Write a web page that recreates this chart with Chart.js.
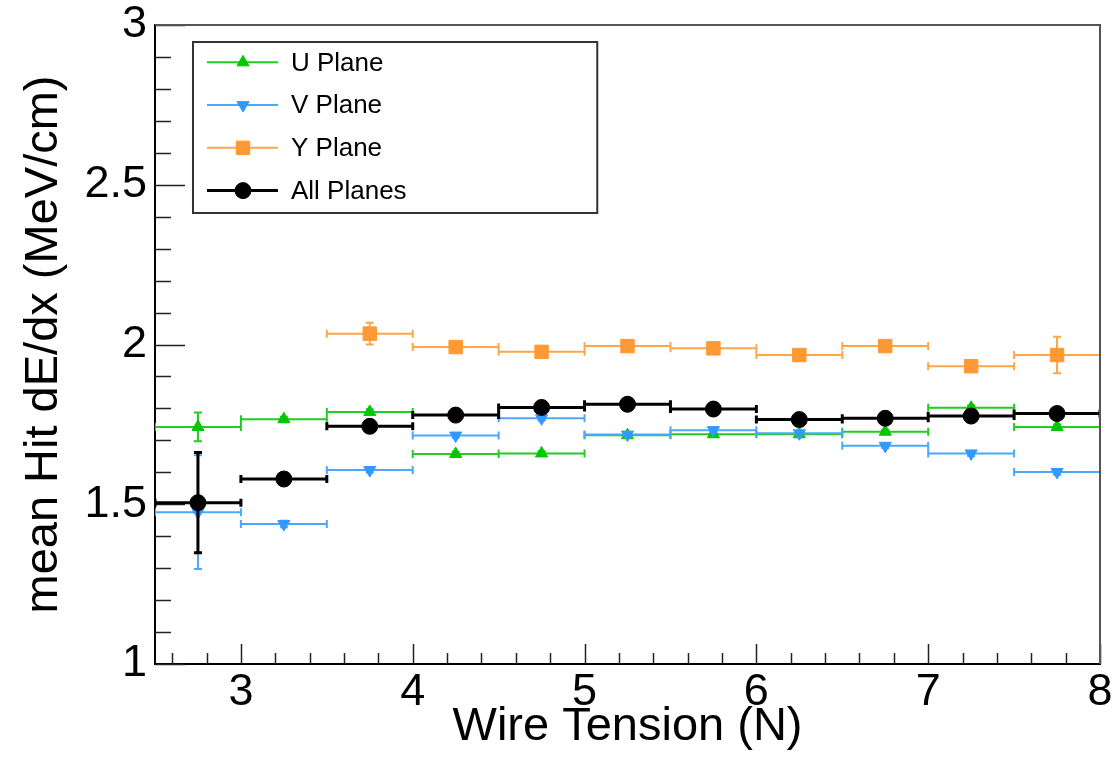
<!DOCTYPE html>
<html>
<head>
<meta charset="utf-8">
<script src="https://cdn.jsdelivr.net/npm/chart.js@4.4.1/dist/chart.umd.min.js"></script>
<style>
html,body{margin:0;padding:0;background:#fff;}
#wrap{width:1115px;height:758px;position:relative;}
</style>
</head>
<body>
<div id="wrap"><canvas id="c" width="1115" height="758"></canvas></div>
<script>
// ---- data ----
const binCenters = [2.75, 3.25, 3.75, 4.25, 4.75, 5.25, 5.75, 6.25, 6.75, 7.25, 7.75];
const binHalfWidth = 0.25;
const uValues   = [1.742, 1.766, 1.789, 1.657, 1.659, 1.716, 1.719, 1.719, 1.727, 1.802, 1.742];
const uErrors   = [0.045, 0.008, 0.008, 0.007, 0.007, 0.006, 0.006, 0.006, 0.006, 0.007, 0.008];
const vValues   = [1.475, 1.438, 1.607, 1.715, 1.769, 1.718, 1.732, 1.722, 1.683, 1.659, 1.601];
const vErrors   = [0.178, 0.010, 0.008, 0.007, 0.007, 0.006, 0.006, 0.006, 0.007, 0.008, 0.009];
const yValues   = [null, null, 2.034, 1.992, 1.977, 1.995, 1.988, 1.967, 1.995, 1.932, 1.967];
const yErrors   = [null, null, 0.034, 0.010, 0.008, 0.008, 0.008, 0.009, 0.010, 0.012, 0.057];
const allValues = [1.505, 1.579, 1.744, 1.779, 1.803, 1.813, 1.798, 1.765, 1.769, 1.776, 1.784];
const allErrors = [0.157, 0.012, 0.008, 0.006, 0.006, 0.005, 0.005, 0.005, 0.006, 0.006, 0.008];
const seriesLabels = ['U Plane', 'V Plane', 'Y Plane', 'All Planes'];
const xTickValues = [3, 4, 5, 6, 7, 8];
const yTickValues = [1, 1.5, 2, 2.5, 3];
const xAxisTitle = 'Wire Tension (N)';
const yAxisTitle = 'mean Hit dE/dx (MeV/cm)';

// ---- styles ----
const FONT = "'Liberation Sans', Arial, Helvetica, sans-serif";
const styles = [
  {color: '#00c800', line: '#22cc22', pointStyle: 'triangle', rotation: 0,   radius: 7,   lw: 2, cap: 4},
  {color: '#3399ff', line: '#4da6ff', pointStyle: 'triangle', rotation: 180, radius: 7,   lw: 2, cap: 4},
  {color: '#ff9933', line: '#ffa64d', pointStyle: 'rect',     rotation: 0,   radius: 9.5, lw: 2, cap: 4},
  {color: '#000000', line: '#000000', pointStyle: 'circle',   rotation: 0,   radius: 8,   lw: 3, cap: 4}
];

function buildPoints(vals, errs) {
  const pts = [];
  binCenters.forEach((x, i) => {
    if (vals[i] === null) return;
    pts.push({x: x, y: vals[i], xerr: binHalfWidth, yerr: errs[i]});
  });
  return pts;
}
const seriesVals = [uValues, vValues, yValues, allValues];
const seriesErrs = [uErrors, vErrors, yErrors, allErrors];

const datasets = seriesLabels.map((lab, k) => ({
  label: lab,
  data: buildPoints(seriesVals[k], seriesErrs[k]),
  showLine: false,
  pointStyle: styles[k].pointStyle,
  rotation: styles[k].rotation,
  pointRadius: styles[k].radius,
  pointHoverRadius: styles[k].radius,
  backgroundColor: styles[k].color,
  borderColor: styles[k].color,
  pointBorderWidth: 1,
  order: 4 - k,
  _st: styles[k]
}));

const rootPlugin = {
  id: 'rootStyle',
  beforeDatasetsDraw(chart) {
    const ctx = chart.ctx, a = chart.chartArea, xs = chart.scales.x, ys = chart.scales.y;
    ctx.save();
    ctx.strokeStyle = '#222';
    ctx.lineWidth = 1.5;
    ctx.beginPath();
    // y ticks (inside): major every 0.5, minor every 0.1
    for (let i = 0; i <= 20; i++) {
      const v = 1 + i * 0.1;
      const py = Math.round(ys.getPixelForValue(v)) + 0.5;
      const len = (i % 5 === 0) ? 30 : 16;
      ctx.moveTo(a.left, py); ctx.lineTo(a.left + len, py);
    }
    // x ticks (inside): major every 1, minor every 0.2
    for (let i = 0; i <= 27; i++) {
      const v = 2.6 + i * 0.2;
      if (v > 8.001) break;
      const px = Math.round(xs.getPixelForValue(v)) + 0.5;
      const isMaj = Math.abs(v - Math.round(v)) < 1e-6;
      const len = isMaj ? 20 : 11;
      ctx.moveTo(px, a.bottom); ctx.lineTo(px, a.bottom - len);
    }
    ctx.stroke();
    ctx.restore();
  },
  beforeDatasetDraw(chart, args) {
    const ds = chart.data.datasets[args.index];
    const st = ds._st;
    const ctx = chart.ctx, a = chart.chartArea, xs = chart.scales.x, ys = chart.scales.y;
    ctx.save();
    ctx.beginPath();
    ctx.rect(a.left, a.top, a.right - a.left, a.bottom - a.top);
    ctx.clip();
    ctx.strokeStyle = st.line;
    ctx.lineWidth = st.lw;
    ctx.lineCap = 'butt';
    ctx.beginPath();
    ds.data.forEach(p => {
      const px = xs.getPixelForValue(p.x), py = ys.getPixelForValue(p.y);
      const x1 = xs.getPixelForValue(p.x - p.xerr), x2 = xs.getPixelForValue(p.x + p.xerr);
      ctx.moveTo(x1, py); ctx.lineTo(x2, py);
      ctx.moveTo(x1, py - st.cap); ctx.lineTo(x1, py + st.cap);
      ctx.moveTo(x2, py - st.cap); ctx.lineTo(x2, py + st.cap);
      if (p.yerr > 0) {
        const y1 = ys.getPixelForValue(p.y - p.yerr), y2 = ys.getPixelForValue(p.y + p.yerr);
        ctx.moveTo(px, y1); ctx.lineTo(px, y2);
        ctx.moveTo(px - st.cap, y1); ctx.lineTo(px + st.cap, y1);
        ctx.moveTo(px - st.cap, y2); ctx.lineTo(px + st.cap, y2);
      }
    });
    ctx.stroke();
    ctx.restore();
  },
  afterDraw(chart) {
    const ctx = chart.ctx, a = chart.chartArea;
    const W = a.right - a.left, H = a.bottom - a.top;
    ctx.save();
    // frame top & right
    ctx.strokeStyle = '#555';
    ctx.lineWidth = 2;
    ctx.beginPath();
    ctx.moveTo(a.left, a.top); ctx.lineTo(a.right, a.top); ctx.lineTo(a.right, a.bottom);
    ctx.stroke();
    // legend box
    const L = a.left + 0.0402 * W, R = a.left + 0.468 * W;
    const T = a.top + 0.0266 * H, B = a.top + 0.2942 * H;
    ctx.fillStyle = '#fff';
    ctx.fillRect(L, T, R - L, B - T);
    ctx.strokeStyle = '#333';
    ctx.lineWidth = 2;
    ctx.strokeRect(L, T, R - L, B - T);
    const rowH = (B - T) / seriesLabels.length;
    chart.data.datasets.forEach((ds, k) => {
      const st = ds._st;
      const cy = T + rowH * (k + 0.5) - 1;
      ctx.strokeStyle = st.line;
      ctx.lineWidth = st.lw;
      ctx.beginPath();
      ctx.moveTo(L + 14, cy); ctx.lineTo(L + 85, cy);
      ctx.stroke();
      ctx.fillStyle = st.color;
      ctx.strokeStyle = st.color;
      ctx.lineWidth = 1;
      Chart.helpers.drawPoint(ctx, {pointStyle: st.pointStyle, rotation: st.rotation, radius: st.radius, borderWidth: 1}, L + 50, cy);
      ctx.fillStyle = '#000';
      ctx.font = '26px ' + FONT;
      ctx.textAlign = 'left';
      ctx.textBaseline = 'middle';
      ctx.fillText(ds.label, L + 98, cy + 1);
    });
    ctx.restore();
  }
};

new Chart(document.getElementById('c'), {
  type: 'scatter',
  data: {datasets: datasets},
  plugins: [rootPlugin],
  options: {
    responsive: false,
    animation: false,
    events: [],
    layout: {padding: {top: 25, right: 15, left: 0, bottom: 0}},
    plugins: {legend: {display: false}, tooltip: {enabled: false}},
    scales: {
      x: {
        type: 'linear', min: 2.5, max: 8,
        afterBuildTicks: s => { s.ticks = xTickValues.map(v => ({value: v})); },
        afterFit: s => { s.height = 94; s.paddingLeft = 0; s.paddingRight = 0; },
        grid: {display: false, drawTicks: false},
        border: {display: true, color: '#000', width: 2},
        ticks: {color: '#000', padding: 6, font: {family: FONT, size: 45, lineHeight: 1}, maxRotation: 0,
                callback: v => String(v)},
        title: {display: true, text: xAxisTitle, color: '#000', font: {family: FONT, size: 47, lineHeight: 1.2}, padding: {top: 0, bottom: 3}}
      },
      y: {
        type: 'linear', min: 1, max: 3,
        afterBuildTicks: s => { s.ticks = yTickValues.map(v => ({value: v})); },
        afterFit: s => { s.width = 155; s.paddingTop = 0; s.paddingBottom = 0; },
        grid: {display: false, drawTicks: false},
        border: {display: true, color: '#000', width: 2},
        ticks: {color: '#000', padding: 8, font: {family: FONT, size: 45, lineHeight: 1},
                callback: v => String(v)},
        title: {display: true, text: yAxisTitle, color: '#000', font: {family: FONT, size: 47, lineHeight: 1.2}, padding: {top: 16, bottom: 0}}
      }
    }
  }
});
</script>
</body>
</html>
